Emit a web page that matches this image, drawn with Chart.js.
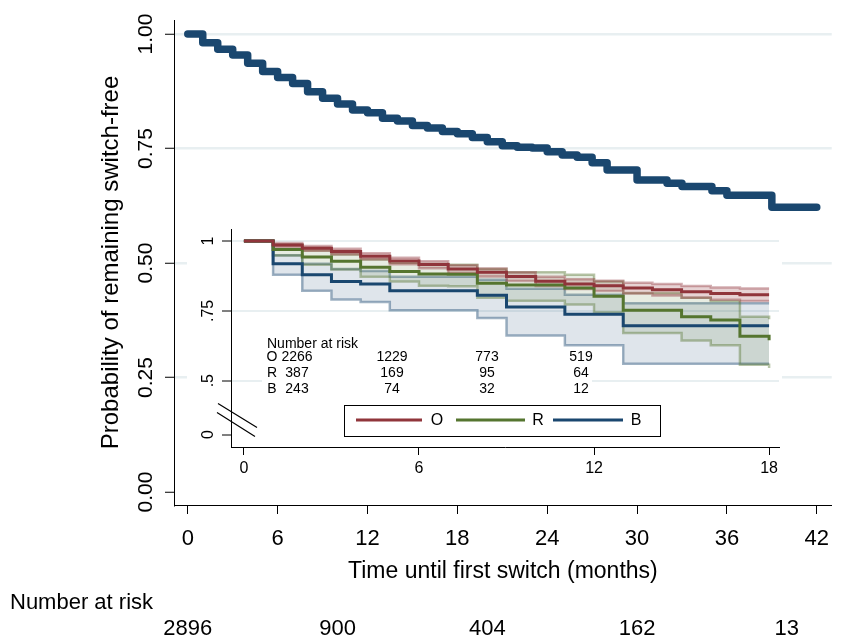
<!DOCTYPE html>
<html>
<head>
<meta charset="utf-8">
<title>Time until first switch</title>
<script src="https://cdn.jsdelivr.net/npm/chart.js@4.4.0/dist/chart.umd.min.js"></script>
<style>
  html, body { margin: 0; padding: 0; background: #fff; }
  #wrap { position: relative; width: 841px; height: 636px; }
  #mainChart { position: absolute; left: 0; top: 0; }
  #insetChart { position: absolute; left: 187px; top: 218px; background: #fff; }
</style>
</head>
<body>
<div id="wrap">
  <canvas id="mainChart" width="841" height="636"></canvas>
  <canvas id="insetChart" width="595" height="267"></canvas>
</div>
<script>
// ---- main curve: all patients ----
const months = [0, 1, 2, 3, 4, 5, 6, 7, 8, 9, 10, 11, 12, 13, 14, 15, 16, 17, 18, 19, 20,
    21, 22, 23, 24, 25, 26, 27, 28, 29, 30, 31, 32, 33, 34, 35, 36, 37, 38, 39, 40, 41, 42];
const survAll = [1.000, 0.981, 0.967, 0.954, 0.936, 0.918, 0.905, 0.892, 0.874, 0.860,
    0.847, 0.834, 0.828, 0.816, 0.810, 0.800, 0.795, 0.787, 0.782, 0.774,
    0.765, 0.756, 0.753, 0.751, 0.743, 0.736, 0.731, 0.719, 0.703, 0.703,
    0.681, 0.681, 0.674, 0.667, 0.667, 0.658, 0.648, 0.648, 0.648, 0.622,
    0.622, 0.622, 0.622];
const xTicks = [0, 6, 12, 18, 24, 30, 36, 42];
const yTicks = [0, 0.25, 0.5, 0.75, 1];
const riskMonths = [0, 10, 20, 30, 40];
const riskAll = [2896, 900, 404, 162, 13];

// ---- inset: by group ----
const groups = ['O', 'R', 'B'];
const insetMonths = [0, 1, 2, 3, 4, 5, 6, 7, 8, 9, 10, 11, 12, 13, 14, 15, 16, 17, 18];
const survO = [1, 0.986, 0.974, 0.963, 0.946, 0.929, 0.916, 0.900, 0.888, 0.873, 0.856, 0.846, 0.840, 0.832, 0.826, 0.818, 0.812, 0.808, 0.808];
const loO   = [1, 0.979, 0.965, 0.953, 0.935, 0.917, 0.903, 0.886, 0.873, 0.857, 0.839, 0.828, 0.821, 0.812, 0.805, 0.797, 0.790, 0.785, 0.785];
const hiO   = [1, 0.993, 0.982, 0.972, 0.956, 0.940, 0.928, 0.913, 0.902, 0.888, 0.872, 0.863, 0.858, 0.851, 0.846, 0.839, 0.834, 0.830, 0.830];
const survR = [1, 0.970, 0.943, 0.928, 0.906, 0.891, 0.882, 0.881, 0.849, 0.843, 0.843, 0.832, 0.802, 0.752, 0.752, 0.729, 0.717, 0.659, 0.645];
const loR   = [1, 0.948, 0.915, 0.898, 0.872, 0.855, 0.840, 0.838, 0.797, 0.786, 0.786, 0.773, 0.744, 0.671, 0.671, 0.644, 0.627, 0.557, 0.545];
const hiR   = [1, 0.987, 0.966, 0.952, 0.934, 0.922, 0.918, 0.915, 0.900, 0.888, 0.888, 0.879, 0.855, 0.814, 0.814, 0.797, 0.785, 0.729, 0.720];
const survB = [1, 0.919, 0.879, 0.855, 0.846, 0.822, 0.822, 0.822, 0.806, 0.764, 0.764, 0.738, 0.738, 0.697, 0.697, 0.697, 0.697, 0.697, 0.697];
const loB   = [1, 0.879, 0.822, 0.791, 0.782, 0.752, 0.752, 0.752, 0.724, 0.662, 0.662, 0.627, 0.627, 0.561, 0.561, 0.561, 0.561, 0.561, 0.561];
const hiB   = [1, 0.949, 0.919, 0.900, 0.893, 0.872, 0.872, 0.872, 0.861, 0.829, 0.829, 0.808, 0.808, 0.777, 0.777, 0.777, 0.777, 0.777, 0.777];
const insetXTicks = [0, 6, 12, 18];
const insetYTicks = [0.307, 0.5, 0.75, 1];   // lowest tick sits below the axis break
const insetYLabels = ['0', '.5', '.75', '1'];
const riskO = [2266, 1229, 773, 519];
const riskR = [387, 169, 95, 64];
const riskB = [243, 74, 32, 12];

const FONT = "'Liberation Sans', Arial, sans-serif";
const GRID = '#e8eff1';
const colO = '#90353b', colR = '#55752f', colB = '#1a476f';

Chart.defaults.font.family = FONT;
Chart.defaults.color = '#000';

const pts = (xs, ys) => xs.map((x, i) => ({ x: x, y: ys[i] }));

// ---------------- main chart ----------------
const riskPlugin = {
    id: 'riskTable',
    afterDraw(chart) {
        const ctx = chart.ctx;
        const xs = chart.scales.x;
        ctx.save();
        ctx.fillStyle = '#000';
        ctx.font = `22px ${FONT}`;
        ctx.textBaseline = 'middle';
        ctx.textAlign = 'left';
        ctx.fillText('Number at risk', 10, 603);
        ctx.textAlign = 'center';
        riskMonths.forEach((m, i) => ctx.fillText(String(riskAll[i]), xs.getPixelForValue(m), 629));
        ctx.restore();
    }
};

new Chart(document.getElementById('mainChart'), {
    type: 'line',
    data: {
        datasets: [{
            data: pts(months, survAll),
            borderColor: colB,
            borderWidth: 7.5,
            borderCapStyle: 'round',
            borderJoinStyle: 'round',
            stepped: true,
            pointRadius: 0,
            fill: false
        }]
    },
    options: {
        responsive: false,
        animation: false,
        devicePixelRatio: 1,
        layout: { padding: { top: 20, right: 0, bottom: 51, left: 0 } },
        plugins: { legend: { display: false }, tooltip: { enabled: false } },
        scales: {
            x: {
                type: 'linear', min: -0.92, max: 43,
                afterBuildTicks: s => { s.ticks = xTicks.map(v => ({ value: v })); },
                afterFit: s => { s.height = 80; },
                grid: { drawOnChartArea: false, tickLength: 9, tickColor: '#000', tickWidth: 1 },
                border: { display: true, color: '#000', width: 1 },
                ticks: { font: { size: 22 }, padding: 12, maxRotation: 0, autoSkip: false },
                title: { display: true, text: 'Time until first switch (months)', font: { size: 23 }, padding: 0 }
            },
            y: {
                type: 'linear', min: -0.0284, max: 1.0306,
                afterBuildTicks: s => { s.ticks = yTicks.map(v => ({ value: v })); },
                afterFit: s => { s.width = 174; },
                grid: {
                    color: c => (c.tick && c.tick.value === 0) ? 'rgba(0,0,0,0)' : GRID,
                    lineWidth: 2.5, tickLength: 9, tickColor: '#000', tickWidth: 1
                },
                border: { display: true, color: '#000', width: 1 },
                ticks: {
                    font: { size: 21 }, minRotation: 90, maxRotation: 90, crossAlign: 'center', padding: -2,
                    callback: v => Number(v).toFixed(2)
                },
                title: { display: true, text: 'Probability of remaining switch-free', font: { size: 24 }, padding: { top: 97, bottom: 0 } }
            }
        }
    },
    plugins: [riskPlugin]
});

// ---------------- inset chart ----------------
const insetDecor = {
    id: 'insetDecor',
    beforeDatasetsDraw(chart) {
        const ctx = chart.ctx;
        ctx.save();
        ctx.fillStyle = '#fff';
        ctx.fillRect(75, 117, 330, 63);
        ctx.fillStyle = '#000';
        ctx.font = `14px ${FONT}`;
        ctx.textBaseline = 'middle';
        ctx.textAlign = 'left';
        ctx.fillText('Number at risk', 80, 126);
        const cols = [110, 205, 300, 394];
        [riskO, riskR, riskB].forEach((row, r) => {
            const y = 139.5 + r * 16;
            ctx.textAlign = 'center';
            ctx.fillText(groups[r], 85, y);
            row.forEach((n, i) => ctx.fillText(String(n), cols[i], y));
        });
        ctx.restore();
    },
    afterDraw(chart) {
        const ctx = chart.ctx;
        const ax = chart.chartArea.left;
        const y0 = chart.scales.y.getPixelForValue(insetYTicks[0]);
        ctx.save();
        // axis break marks
        ctx.strokeStyle = '#000';
        ctx.lineWidth = 1.2;
        ctx.beginPath();
        ctx.moveTo(ax - 13, y0 - 31); ctx.lineTo(ax + 26, y0 - 7);
        ctx.moveTo(ax - 14, y0 - 22); ctx.lineTo(ax + 24, y0 + 2);
        ctx.stroke();
        // legend
        ctx.fillStyle = '#fff';
        ctx.fillRect(157, 187, 316, 31);
        ctx.lineWidth = 1;
        ctx.strokeRect(157.5, 187.5, 316, 31);
        const items = [[169, 235, 250], [269, 338, 351], [366, 436, 449]];
        const cols = [colO, colR, colB];
        ctx.font = `16px ${FONT}`;
        ctx.textAlign = 'center';
        ctx.textBaseline = 'middle';
        items.forEach((it, i) => {
            ctx.strokeStyle = cols[i];
            ctx.lineWidth = 3;
            ctx.beginPath();
            ctx.moveTo(it[0], 202); ctx.lineTo(it[1], 202);
            ctx.stroke();
            ctx.fillStyle = '#000';
            ctx.fillText(groups[i], it[2], 203);
        });
        ctx.restore();
    }
};

const mainLine = (ys, col) => ({
    data: pts(insetMonths, ys), borderColor: col, borderWidth: 3,
    stepped: true, pointRadius: 0, fill: false
});
const bandEdge = (ys, edge, bg, fill) => ({
    data: pts(insetMonths, ys), borderColor: edge, borderWidth: 2.5,
    backgroundColor: bg, stepped: true, pointRadius: 0, fill: fill
});

new Chart(document.getElementById('insetChart'), {
    type: 'line',
    data: {
        datasets: [
            mainLine(survO, colO),
            mainLine(survR, colR),
            mainLine(survB, colB),
            bandEdge(hiO, 'rgba(144,53,59,0.4)', 'rgba(144,53,59,0.22)', '+1'),
            bandEdge(loO, 'rgba(144,53,59,0.4)', 'rgba(0,0,0,0)', false),
            bandEdge(hiR, 'rgba(85,117,47,0.42)', 'rgba(85,117,47,0.14)', '+1'),
            bandEdge(loR, 'rgba(85,117,47,0.42)', 'rgba(0,0,0,0)', false),
            bandEdge(hiB, 'rgba(26,71,111,0.42)', 'rgba(26,71,111,0.14)', '+1'),
            bandEdge(loB, 'rgba(26,71,111,0.42)', 'rgba(0,0,0,0)', false)
        ]
    },
    options: {
        responsive: false,
        animation: false,
        devicePixelRatio: 1,
        layout: { padding: { top: 7, right: 0, bottom: 0, left: 0 } },
        plugins: { legend: { display: false }, tooltip: { enabled: false } },
        scales: {
            x: {
                type: 'linear', min: -0.443, max: 18.34,
                afterBuildTicks: s => { s.ticks = insetXTicks.map(v => ({ value: v })); },
                afterFit: s => { s.height = 38; },
                grid: { drawOnChartArea: false, tickLength: 8, tickColor: '#000', tickWidth: 1 },
                border: { display: true, color: '#000', width: 1 },
                ticks: { font: { size: 16 }, padding: 4, maxRotation: 0, autoSkip: false }
            },
            y: {
                type: 'linear', min: 0.2625, max: 1.041,
                afterBuildTicks: s => { s.ticks = insetYTicks.map(v => ({ value: v })); },
                afterFit: s => { s.width = 44; },
                grid: {
                    color: c => (c.tick && c.tick.value < 0.4) ? 'rgba(0,0,0,0)' : GRID,
                    lineWidth: 2, tickLength: 9, tickColor: '#000', tickWidth: 1
                },
                border: { display: true, color: '#000', width: 1 },
                ticks: {
                    font: { size: 16 }, minRotation: 90, maxRotation: 90, crossAlign: 'center', padding: 2,
                    callback: (v, i) => insetYLabels[i]
                }
            }
        }
    },
    plugins: [insetDecor]
});
</script>
</body>
</html>
